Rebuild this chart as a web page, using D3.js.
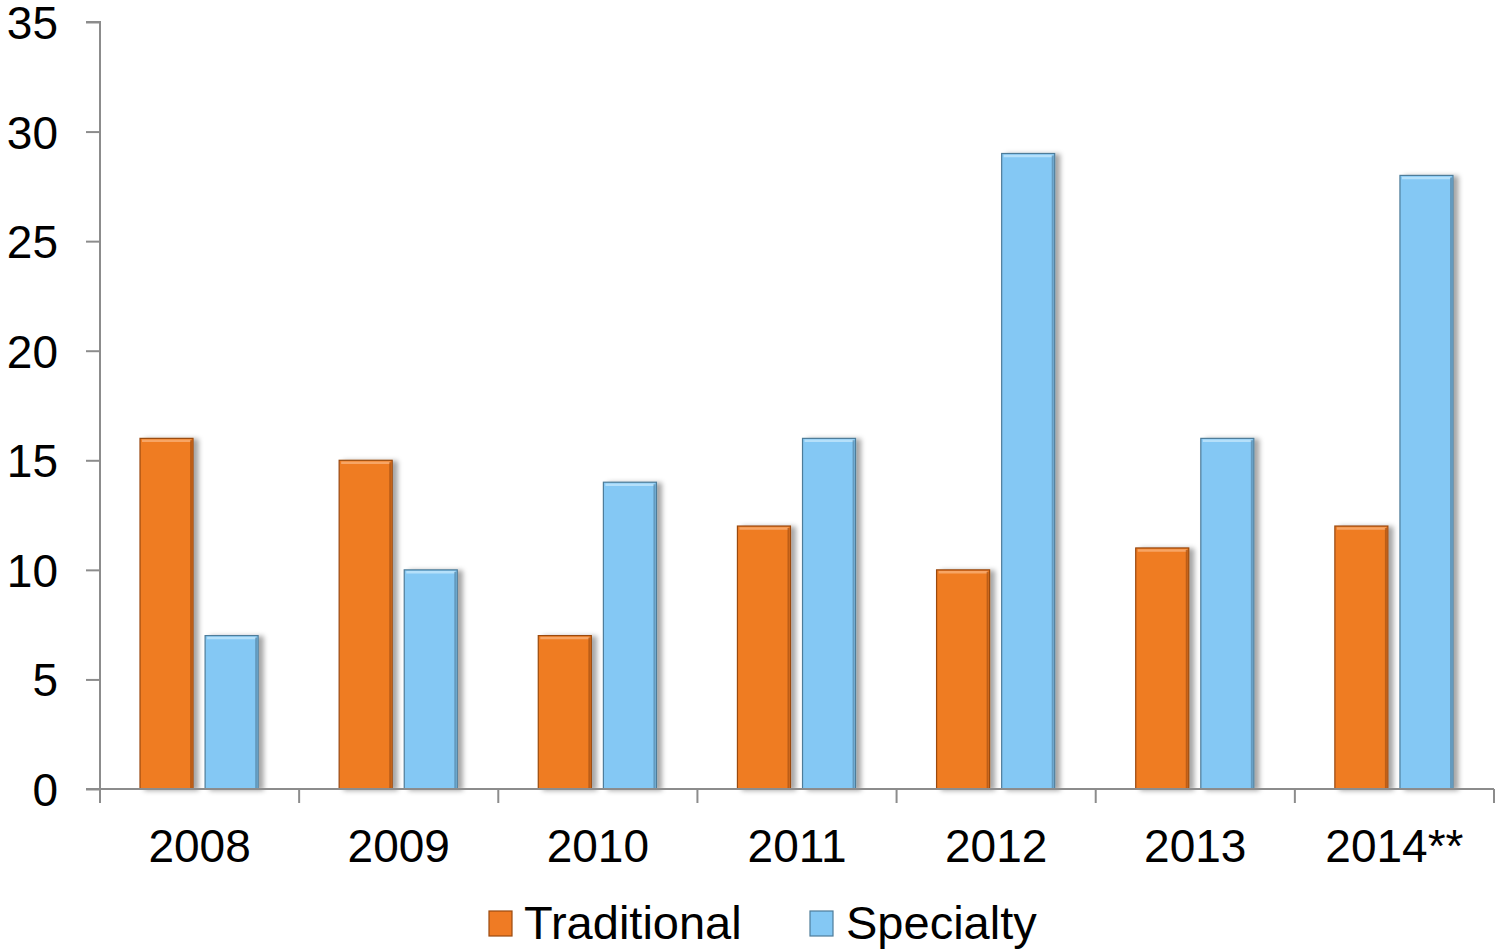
<!DOCTYPE html>
<html><head><meta charset="utf-8">
<script src="https://cdn.jsdelivr.net/npm/d3@7/dist/d3.min.js"></script>
<style>
html,body{margin:0;padding:0;background:#fff;}
text{font-family:Arial,"Liberation Sans",sans-serif;fill:#000;}
</style></head><body>
<svg id="c" width="1495" height="950"></svg>
<script>
const categories = ["2008","2009","2010","2011","2012","2013","2014**"];
const traditional = [16,15,7,12,10,11,12];
const specialty = [7,10,14,16,29,16,28];
const seriesNames = ["Traditional","Specialty"];
const yTicks = [0,5,10,15,20,25,30,35];

(function(){
const colors = {Traditional:"#EF7B24", Specialty:"#84C8F4"};
const strokes = {Traditional:"#9A4A10", Specialty:"#4E7C99"};
const highlights = {Traditional:"#F7A565", Specialty:"#B5E0FA"};

const svg = d3.select("#c");
const defs = svg.append("defs");
const f = defs.append("filter").attr("id","sh").attr("x","-20%").attr("y","-5%").attr("width","160%").attr("height","115%");
f.append("feDropShadow").attr("dx",5).attr("dy",1).attr("stdDeviation",2.5).attr("flood-color","#000").attr("flood-opacity",0.35);

const mLeft = 100, mRight = 1494, mTop = 22, mBottom = 789;
const x = d3.scaleBand().domain(categories).range([mLeft,mRight]).paddingInner(0).paddingOuter(0);
const y = d3.scaleLinear().domain([0,35]).range([mBottom,mTop]);
const xs = d3.scaleBand().domain(seriesNames).range([40, x.bandwidth()-41]).paddingInner(0.185);

const yAxis = d3.axisLeft(y).tickValues(yTicks).tickSize(14).tickPadding(28).tickFormat(d3.format("d"));
const gy = svg.append("g").attr("transform",`translate(${mLeft},0)`).call(yAxis);
gy.select(".domain").attr("stroke","#8c8c8c").attr("stroke-width",2).attr("d",`M-14,${mTop}H0V${mBottom}`);
gy.selectAll(".tick line").attr("stroke","#8c8c8c").attr("stroke-width",2);
gy.selectAll(".tick text").attr("font-size",46).attr("dy","0.36em").attr("fill","#000").style("font-family","Arial,'Liberation Sans',sans-serif");

const data = categories.map((c,i)=>({cat:c, vals:[{s:"Traditional",v:traditional[i]},{s:"Specialty",v:specialty[i]}]}));
const groups = svg.append("g").selectAll("g").data(data).join("g").attr("transform",d=>`translate(${x(d.cat)},0)`);
const bars = groups.selectAll("g.bar").data(d=>d.vals).join("g").attr("class","bar");
bars.append("rect")
  .attr("x",d=>xs(d.s)).attr("y",d=>y(d.v))
  .attr("width",xs.bandwidth()).attr("height",d=>mBottom-y(d.v))
  .attr("fill",d=>colors[d.s]).attr("stroke",d=>strokes[d.s]).attr("stroke-width",1.2)
  .attr("filter","url(#sh)");
bars.append("line")
  .attr("x1",d=>xs(d.s)+2).attr("x2",d=>xs(d.s)+xs.bandwidth()-2)
  .attr("y1",d=>y(d.v)+2.5).attr("y2",d=>y(d.v)+2.5)
  .attr("stroke",d=>highlights[d.s]).attr("stroke-width",2.5);
bars.append("line")
  .attr("x1",d=>xs(d.s)+xs.bandwidth()-2).attr("x2",d=>xs(d.s)+xs.bandwidth()-2)
  .attr("y1",d=>y(d.v)+2).attr("y2",mBottom)
  .attr("stroke",d=>strokes[d.s]).attr("stroke-opacity",0.6).attr("stroke-width",2);

const xAxis = d3.axisBottom(x).tickSize(0).tickPadding(0);
const gx = svg.append("g").attr("transform",`translate(0,${mBottom})`).call(xAxis);
gx.select(".domain").remove();
gx.selectAll(".tick text").attr("font-size",46).attr("y",73).attr("dy",0).attr("fill","#000").style("font-family","Arial,'Liberation Sans',sans-serif");
svg.append("line").attr("x1",86).attr("x2",mRight).attr("y1",mBottom).attr("y2",mBottom).attr("stroke","#8c8c8c").attr("stroke-width",2);
const boundaries = categories.map(c=>x(c)).concat([mRight]);
svg.append("g").selectAll("line").data(boundaries).join("line")
  .attr("x1",d=>d).attr("x2",d=>d).attr("y1",mBottom).attr("y2",mBottom+14)
  .attr("stroke","#8c8c8c").attr("stroke-width",2);

const legendItems = [{s:"Traditional",sx:489,tx:524},{s:"Specialty",sx:810,tx:846}];
const lg = svg.append("g");
legendItems.forEach(it=>{
  lg.append("rect").attr("x",it.sx).attr("y",911).attr("width",23).attr("height",25)
    .attr("fill",colors[it.s]).attr("stroke",strokes[it.s]).attr("stroke-width",1.2);
  lg.append("text").attr("x",it.tx).attr("y",939).attr("font-size",47).text(it.s);
});
})();
</script></body></html>
